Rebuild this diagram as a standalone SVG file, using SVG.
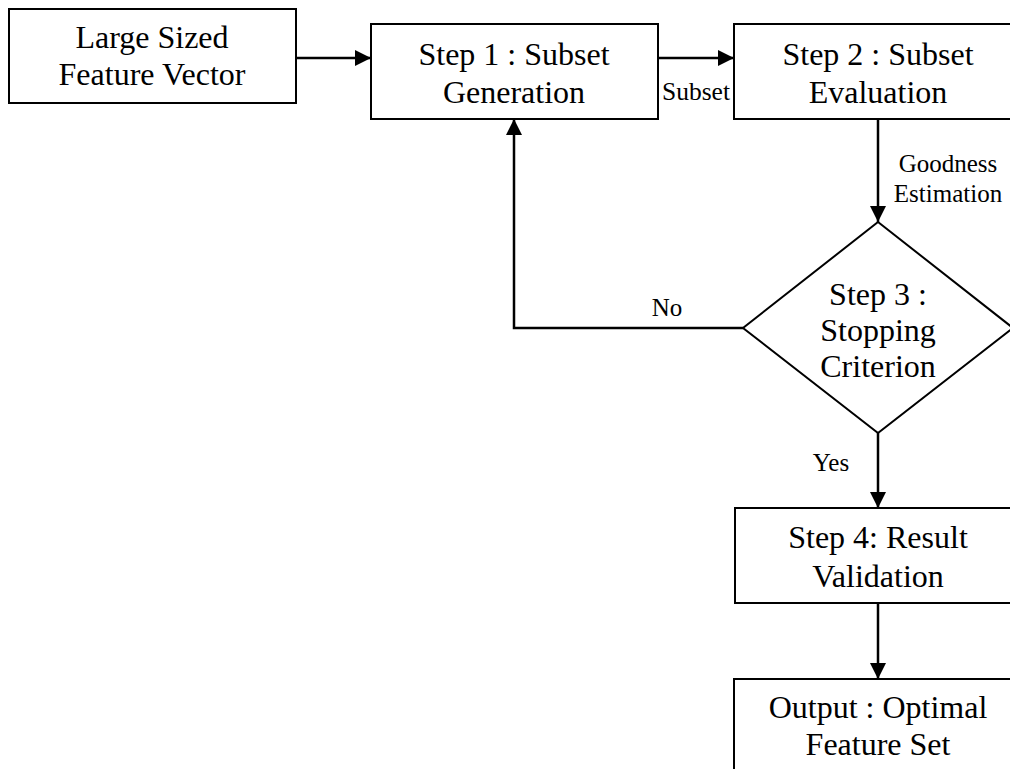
<svg xmlns="http://www.w3.org/2000/svg" width="1010" height="769" viewBox="0 0 1010 769">
<style>
.box{fill:#fff;stroke:#000;stroke-width:2}
.main{font-family:"Liberation Serif","Times New Roman",serif;font-size:32px;fill:#000;text-anchor:middle}
.lbl{font-family:"Liberation Serif","Times New Roman",serif;font-size:25px;fill:#000}
.conn{fill:none;stroke:#000;stroke-width:2.5}
</style>
<defs>
<marker id="ah" markerUnits="userSpaceOnUse" markerWidth="16" markerHeight="16" refX="16" refY="8" orient="auto">
<path d="M0,0 L16,8 L0,16 z" fill="#000"/>
</marker>
</defs>
<rect width="1010" height="769" fill="#fff"/>
<g id="n-input">
<rect class="box" x="9" y="9" width="287" height="94"/>
<text class="main" x="152" y="48">Large Sized</text>
<text class="main" x="152" y="85">Feature Vector</text>
</g>
<g id="n-step1">
<rect class="box" x="371" y="24" width="287" height="95"/>
<text class="main" x="514" y="65">Step 1 : Subset</text>
<text class="main" x="514" y="103">Generation</text>
</g>
<g id="n-step2">
<rect class="box" x="734" y="24" width="290" height="95"/>
<text class="main" x="878" y="65">Step 2 : Subset</text>
<text class="main" x="878" y="103">Evaluation</text>
</g>
<g id="n-step3">
<polygon class="box" points="878,222 1013,328 878,433 743,328"/>
<text class="main" x="878" y="305">Step 3 :</text>
<text class="main" x="878" y="341">Stopping</text>
<text class="main" x="878" y="377">Criterion</text>
</g>
<g id="n-step4">
<rect class="box" x="735" y="508" width="290" height="95"/>
<text class="main" x="878" y="548">Step 4: Result</text>
<text class="main" x="878" y="587">Validation</text>
</g>
<g id="n-output">
<rect class="box" x="734" y="679" width="290" height="100"/>
<text class="main" x="878" y="718">Output : Optimal</text>
<text class="main" x="878" y="755">Feature Set</text>
</g>
<g id="connectors">
<line class="conn" x1="296" y1="58" x2="371" y2="58" marker-end="url(#ah)"/>
<line class="conn" x1="658" y1="58" x2="734" y2="58" marker-end="url(#ah)"/>
<line class="conn" x1="878" y1="119" x2="878" y2="222" marker-end="url(#ah)"/>
<polyline class="conn" points="743,328 514,328 514,119" marker-end="url(#ah)"/>
<line class="conn" x1="878" y1="433" x2="878" y2="508" marker-end="url(#ah)"/>
<line class="conn" x1="878" y1="603" x2="878" y2="679" marker-end="url(#ah)"/>
<text class="lbl" x="662" y="100" textLength="68" lengthAdjust="spacingAndGlyphs">Subset</text>
<text class="lbl" x="948" y="172" text-anchor="middle">Goodness</text>
<text class="lbl" x="948" y="202" text-anchor="middle">Estimation</text>
<text class="lbl" x="667" y="316" text-anchor="middle">No</text>
<text class="lbl" x="831" y="471" text-anchor="middle">Yes</text>
</g>
</svg>
